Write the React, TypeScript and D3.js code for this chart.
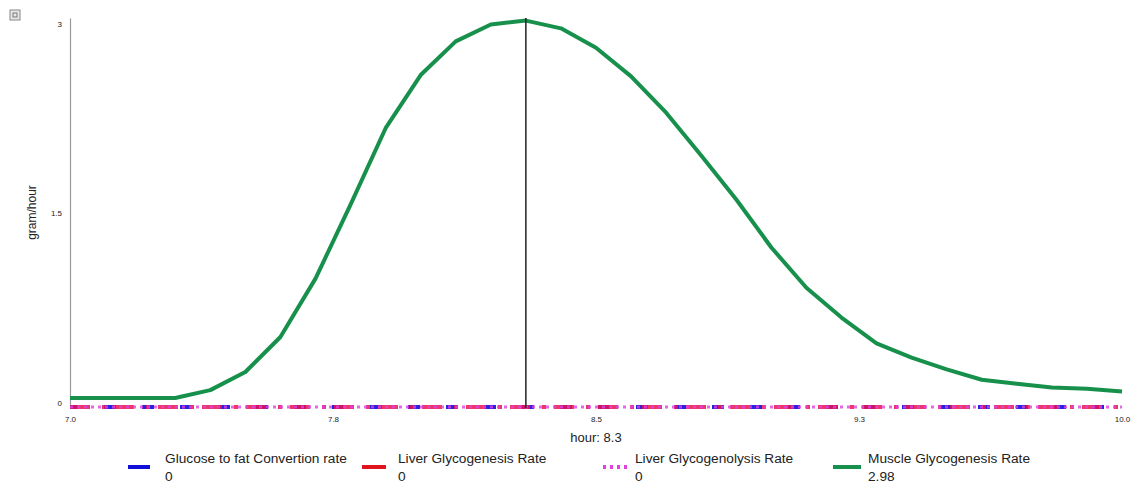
import React, { useRef, useEffect } from 'react';
import * as d3 from 'd3';

// hours sampled every 0.1 h
const hours = [
  7.0, 7.1, 7.2, 7.3, 7.4, 7.5, 7.6, 7.7, 7.8, 7.9, 8.0, 8.1, 8.2, 8.3, 8.4, 8.5,
  8.6, 8.7, 8.8, 8.9, 9.0, 9.1, 9.2, 9.3, 9.4, 9.5, 9.6, 9.7, 9.8, 9.9, 10.0,
];
const muscleGlycogenesis = [
  0.07, 0.07, 0.07, 0.07, 0.13, 0.27, 0.54, 0.99, 1.56, 2.15, 2.56, 2.82, 2.95, 2.98, 2.92, 2.77,
  2.55, 2.27, 1.94, 1.6, 1.23, 0.92, 0.69, 0.49, 0.38, 0.29, 0.21, 0.18, 0.15, 0.14, 0.12,
];
const glucoseToFat = hours.map(() => 0);
const liverGlycogenesis = hours.map(() => 0);
const liverGlycogenolysis = hours.map(() => 0);

const xTicks = [7.0, 7.75, 8.5, 9.25, 10.0];
const yTicks = [0, 1.5, 3];
const cursorHour = 8.3;

const legendItems = [
  { name: 'Glucose to fat Convertion rate', value: '0', color: '#1010d8', dash: '' },
  { name: 'Liver Glycogenesis Rate', value: '0', color: '#e0141e', dash: '' },
  { name: 'Liver Glycogenolysis Rate', value: '0', color: '#e040e0', dash: '3 4' },
  { name: 'Muscle Glycogenesis Rate', value: '2.98', color: '#17904c', dash: '' },
];

const FONT = "Arial, 'Liberation Sans', sans-serif";

export default function App() {
  const svgRef = useRef<SVGSVGElement>(null);

  useEffect(() => {
    const width = 1136;
    const height = 486;
    const margin = { top: 18, right: 14, bottom: 79, left: 70 };
    const innerW = width - margin.left - margin.right;
    const innerH = height - margin.top - margin.bottom;

    const svg = d3.select(svgRef.current);
    svg.selectAll('*').remove();

    // little export icon top-left
    svg.append('rect').attr('x', 10).attr('y', 10).attr('width', 10).attr('height', 10)
      .attr('fill', '#e8e8e8').attr('stroke', '#888').attr('stroke-width', 1);
    svg.append('rect').attr('x', 13).attr('y', 13).attr('width', 4).attr('height', 4)
      .attr('fill', 'none').attr('stroke', '#777').attr('stroke-width', 1);

    const g = svg.append('g').attr('transform', `translate(${margin.left},${margin.top})`);

    const x = d3.scaleLinear().domain([7, 10]).range([0, innerW]);
    const y = d3.scaleLinear().domain([0, 3]).range([innerH, 0]);

    // y axis
    const yAxis = g.append('g')
      .call(d3.axisLeft(y).tickValues(yTicks).tickSize(0).tickPadding(8).tickFormat(d3.format('')))
      .style('font-family', FONT)
      .style('font-size', '8px');
    yAxis.select('.domain').attr('stroke', '#9a9a9a').attr('stroke-width', 1.2);
    yAxis.selectAll('.tick text').attr('fill', '#222')
      .attr('dy', (d: any) => (d === 0 ? '-0.2em' : d === 3 ? '1.05em' : '0.32em'));

    // x axis
    const xAxis = g.append('g')
      .attr('transform', `translate(0,${innerH})`)
      .call(d3.axisBottom(x).tickValues(xTicks).tickSize(0).tickPadding(9).tickFormat(d3.format('.1f')))
      .style('font-family', FONT)
      .style('font-size', '8px');
    xAxis.select('.domain').remove();
    xAxis.selectAll('.tick text').attr('fill', '#222');

    // axis titles
    svg.append('text')
      .attr('x', margin.left + innerW / 2).attr('y', 442)
      .attr('text-anchor', 'middle')
      .style('font-family', FONT).style('font-size', '13px').attr('fill', '#222')
      .text(`hour: ${cursorHour}`);
    svg.append('text')
      .attr('transform', `translate(36,${margin.top + innerH / 2}) rotate(-90)`)
      .attr('text-anchor', 'middle')
      .style('font-family', FONT).style('font-size', '12px').attr('fill', '#222')
      .text('gram/hour');

    const line = d3.line<number>()
      .x((_, i) => x(hours[i]))
      .y((d) => y(d));

    // zero series drawn at the floor
    g.append('path').datum(glucoseToFat).attr('d', line)
      .attr('fill', 'none').attr('stroke', '#2a22e0').attr('stroke-width', 4)
      .attr('stroke-dasharray', '12 26').attr('stroke-dashoffset', 4);
    g.append('path').datum(liverGlycogenesis).attr('d', line)
      .attr('fill', 'none').attr('stroke', '#e81450').attr('stroke-width', 4)
      .attr('stroke-opacity', 0.85)
      .attr('stroke-dasharray', '20 12 4 8');
    g.append('path').datum(liverGlycogenolysis).attr('d', line)
      .attr('fill', 'none').attr('stroke', '#e040e0').attr('stroke-width', 3)
      .attr('stroke-opacity', 0.8)
      .attr('stroke-dasharray', '3 4');

    // muscle curve
    g.append('path').datum(muscleGlycogenesis).attr('d', line)
      .attr('fill', 'none').attr('stroke', '#17904c').attr('stroke-width', 4)
      .attr('stroke-linejoin', 'round');

    // cursor line
    g.append('line')
      .attr('x1', x(cursorHour)).attr('x2', x(cursorHour))
      .attr('y1', 0).attr('y2', innerH + 1)
      .attr('stroke', '#222').attr('stroke-width', 1.5);

    // legend
    const swatchX = [128, 362, 603, 833];
    const swatchW = [22, 24, 25, 28];
    const textX = [165, 398, 635, 868];
    const lg = svg.append('g').style('font-family', FONT).style('font-size', '13.7px');
    legendItems.forEach((item, i) => {
      lg.append('line')
        .attr('x1', swatchX[i]).attr('x2', swatchX[i] + swatchW[i])
        .attr('y1', 467).attr('y2', 467)
        .attr('stroke', item.color).attr('stroke-width', 4)
        .attr('stroke-dasharray', item.dash || null);
      lg.append('text').attr('x', textX[i]).attr('y', 463).attr('fill', '#222').text(item.name);
      lg.append('text').attr('x', textX[i]).attr('y', 481).attr('fill', '#222').text(item.value);
    });
  }, []);

  return (
    <svg
      ref={svgRef}
      width={1136}
      height={486}
      viewBox="0 0 1136 486"
      style={{ position: 'fixed', left: 0, top: 0, background: '#fff' }}
    />
  );
}
